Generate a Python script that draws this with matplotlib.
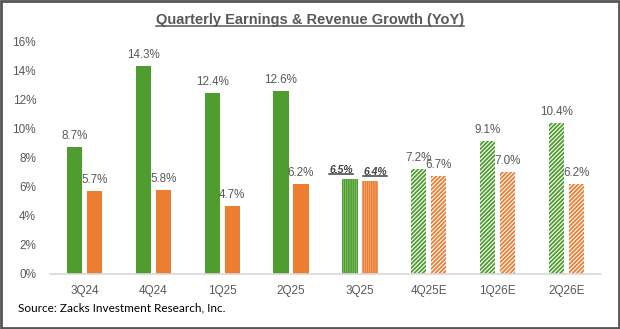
import matplotlib
matplotlib.use("Agg")
import matplotlib.pyplot as plt
from matplotlib.patches import Rectangle
from matplotlib.lines import Line2D
import numpy as np

categories = ["3Q24", "4Q24", "1Q25", "2Q25", "3Q25", "4Q25E", "1Q26E", "2Q26E"]
earnings = [8.7, 14.3, 12.4, 12.6, 6.5, 7.2, 9.1, 10.4]
revenue = [5.7, 5.8, 4.7, 6.2, 6.4, 6.7, 7.0, 6.2]
yticks = [0, 2, 4, 6, 8, 10, 12, 14, 16]
title = "Quarterly Earnings & Revenue Growth (YoY)"
source = "Source: Zacks Investment Research, Inc."
# style per category: solid, current (dense vertical), estimate (diagonal)
kinds = ["solid", "solid", "solid", "solid", "current", "est", "est", "est"]

GREEN = "#4F9D2F"
ORANGE = "#ED7D31"
GRAY = "#595959"

plt.rcParams["hatch.linewidth"] = 1.3
plt.rcParams["font.family"] = ["Liberation Sans", "DejaVu Sans"]

fig = plt.figure(figsize=(6.2, 3.29), dpi=100)
ax = fig.add_axes([50/620, 1-274/329, (601-50)/620, (274-41)/329])

x = np.arange(len(categories))
w = 0.22
off = 0.145

def draw(vals, color, sign):
    for i, (v, k) in enumerate(zip(vals, kinds)):
        xi = x[i] + sign*off
        if k == "solid":
            ax.bar(xi, v, w, color=color, linewidth=0)
        elif k == "current":
            ax.bar(xi, v, w, facecolor="white", edgecolor=color, hatch="||||||||", linewidth=0)
        else:
            ax.bar(xi, v, w, facecolor="white", edgecolor=color, hatch="////////", linewidth=0)

draw(earnings, GREEN, -1)
draw(revenue, ORANGE, +1)

ax.set_xlim(-0.5, len(categories)-0.5)
ax.set_ylim(0, 16)
ax.set_yticks(yticks)
ax.set_yticklabels([f"{t}%" for t in yticks])
ax.set_xticks(x)
ax.set_xticklabels(categories)
ax.tick_params(length=0, colors=GRAY, labelsize=8.5)
ax.tick_params(axis="y", pad=10)
ax.tick_params(axis="x", pad=8)
for s in ["top", "right", "left"]:
    ax.spines[s].set_visible(False)
ax.spines["bottom"].set_color("#D9D9D9")
ax.spines["bottom"].set_linewidth(1.2)

underline_texts = []
for vals, sign, nudge in [(earnings, -1, -9), (revenue, +1, 5)]:
    for i, v in enumerate(vals):
        if kinds[i] == "current":
            t = ax.annotate(f"{v:.1f}%", (x[i]+sign*off, v), xytext=(nudge, 4),
                            textcoords="offset pixels", ha="center", va="bottom",
                            fontsize=7.5, color="#404040", fontweight="bold", fontstyle="italic")
            underline_texts.append(t)
        else:
            ax.annotate(f"{v:.1f}%", (x[i]+sign*off, v), xytext=(0, 5),
                        textcoords="offset pixels", ha="center", va="bottom",
                        fontsize=8.4, color=GRAY)

tt = fig.text(0.5, 1-20/329, title, ha="center", va="center", fontsize=10.5,
              fontweight="bold", color=GRAY, family=["Liberation Sans Narrow", "Liberation Sans"])
underline_texts.append(tt)

fig.text(18/620, 1-308/329, source, ha="left", va="center", fontsize=8.5,
         color="black", family=["Lato", "DejaVu Sans"])

fig.patches.append(Rectangle((0.0015, 0.003), 0.997, 0.994, transform=fig.transFigure,
                             fill=False, edgecolor="#555555", linewidth=2))

fig.canvas.draw()
r = fig.canvas.get_renderer()
for t in underline_texts:
    bb = t.get_window_extent(r)
    y = bb.y0 + 1.0
    fig.lines.append(Line2D([bb.x0/620, bb.x1/620], [y/329, y/329], transform=fig.transFigure,
                            color=t.get_color(), linewidth=1.1))

fig.savefig("out.png", dpi=100)
